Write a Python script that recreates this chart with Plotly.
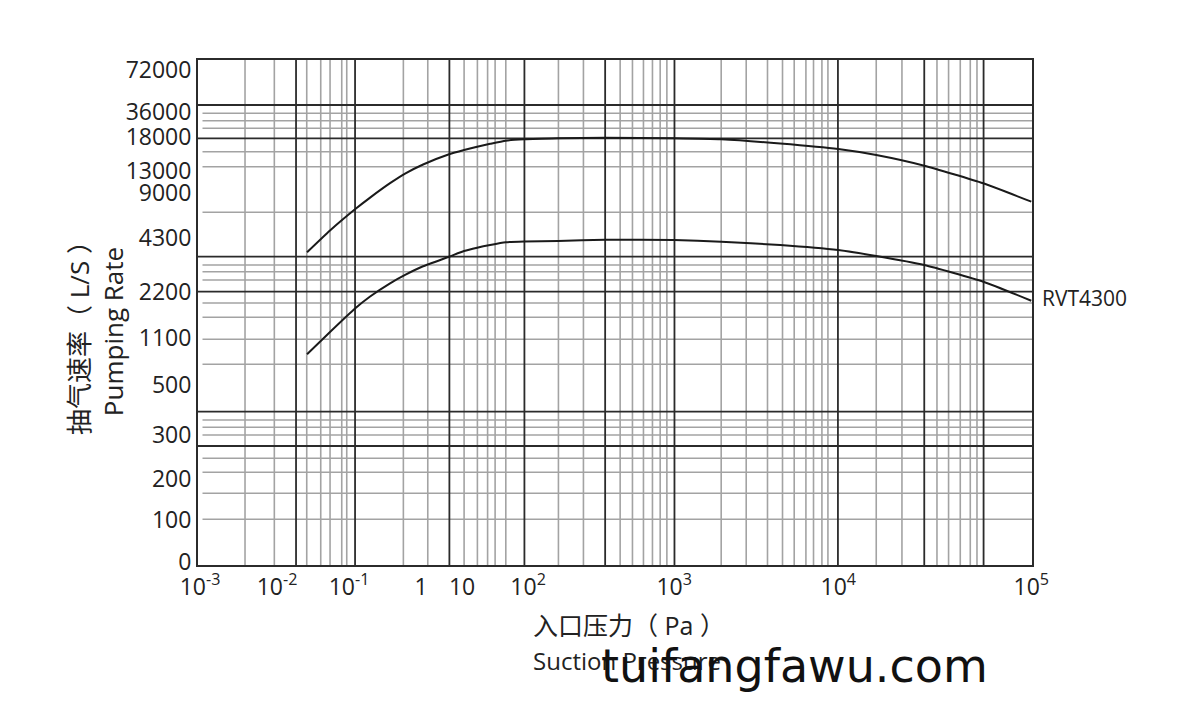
import numpy as np
import plotly.graph_objects as go

# ---------------- data ----------------
pressure_upper = [0.0261, 0.0544, 0.121, 0.196, 0.371, 0.600, 1.12, 4.82, 10.7, 16.9, 26.6,
                  45.9, 86.9, 160, 337, 1000, 1935, 4430, 10000, 15740, 27900, 56400, 100000]
speed_upper = [3744, 5083, 7297, 8520, 10782, 12527, 13956, 15456, 16087, 16572, 16998,
               17454, 17660, 17808, 17897, 17808, 17660, 17044, 16235, 15353, 13779, 10764, 8092]

pressure_lower = pressure_upper
speed_lower = [892, 1243, 1805, 2092, 2538, 2865, 3200, 3573, 3795, 3923, 4028,
               4133, 4164, 4184, 4234, 4223, 4157, 4028, 3833, 3600, 3250, 2601, 1992]

series_label = "RVT4300"

x_tick_exp = [-3, -2, -1, 0, 1, 2, 3, 4, 5]
x_tick_text = ["10<sup>-3</sup>", "10<sup>-2</sup>", "10<sup>-1</sup>", "1", "10",
               "10<sup>2</sup>", "10<sup>3</sup>", "10<sup>4</sup>", "10<sup>5</sup>"]
y_tick_values = [0, 100, 200, 300, 500, 1100, 2200, 4300, 9000, 13000, 18000, 36000, 72000]
y_tick_text = [str(v) for v in y_tick_values]

# ------------- custom (non-uniform) sheet scale -------------
X_DECADE_POS = [200, 277, 349, 421, 462, 528, 674, 838, 1031]
Y_LABEL_POS = [562, 520, 479, 435, 385, 338, 292, 238, 193, 171, 137, 112, 70]
X_RANGE = [198, 1031.7]
Y_RANGE = [565, 60]


def xpos(p):
    return np.interp(np.log10(np.asarray(p, dtype=float)), x_tick_exp, X_DECADE_POS)


def ypos(s):
    return np.interp(np.asarray(s, dtype=float), y_tick_values, Y_LABEL_POS)


# grid of the printed sheet
V_GRID_MINOR = [245, 274.3, 306.7, 320.7, 330, 341.7, 346.7, 403.3, 427.7, 464, 477.3, 487.5,
                495, 505.7, 558.3, 583.3, 620, 632.3, 643.3, 652.3, 660, 666.7, 721, 746,
                767.3, 782.3, 794, 805.7, 813.3, 821.7, 827.7, 876, 901.7, 936.7, 948.3,
                960, 970, 976.7]
V_GRID_MAJOR = [296, 355, 449.3, 524.3, 605, 674.3, 837.7, 924, 983.3]
H_GRID_MINOR = [113.3, 120.7, 128.3, 151.7, 166.7, 212.3, 265, 271.7, 280, 303, 317.3, 339.3,
                364.3, 420, 427.3, 435, 458.3, 472.3, 493.3, 519.3]
H_GRID_MAJOR = [105, 138.3, 256.7, 291.7, 411.7, 446]

MINOR_COLOR = "#a3a3a3"
MAJOR_COLOR = "#2b2b2b"
LINE_COLOR = "#1a1a1a"
FONT = "Open Sans, Noto Sans CJK SC, sans-serif"

# page body margin of the html (8 px) is compensated in the figure margins
PAGE_OFF = 8
W, H = 1200, 706
ML = X_RANGE[0] - PAGE_OFF
MT = Y_RANGE[1] - PAGE_OFF
MR = W - (X_RANGE[1] - PAGE_OFF)
MB = H - (Y_RANGE[0] - PAGE_OFF)
PW = X_RANGE[1] - X_RANGE[0]
PH = Y_RANGE[0] - Y_RANGE[1]


def px(xp):
    return (xp - X_RANGE[0]) / PW


def py(yp):
    return (Y_RANGE[0] - yp) / PH


shapes = []
for v in V_GRID_MINOR:
    shapes.append(dict(type="line", xref="x", yref="y", x0=v, x1=v, y0=Y_RANGE[0], y1=Y_RANGE[1],
                       line=dict(color=MINOR_COLOR, width=1.6), layer="below"))
for h in H_GRID_MINOR:
    shapes.append(dict(type="line", xref="x", yref="y", x0=202.5, x1=X_RANGE[1], y0=h, y1=h,
                       line=dict(color=MINOR_COLOR, width=1.6), layer="below"))
for v in V_GRID_MAJOR:
    shapes.append(dict(type="line", xref="x", yref="y", x0=v, x1=v, y0=Y_RANGE[0], y1=Y_RANGE[1],
                       line=dict(color=MAJOR_COLOR, width=1.8), layer="below"))
for h in H_GRID_MAJOR:
    shapes.append(dict(type="line", xref="x", yref="y", x0=X_RANGE[0], x1=X_RANGE[1], y0=h, y1=h,
                       line=dict(color=MAJOR_COLOR, width=1.8), layer="below"))

fig = go.Figure()
fig.add_trace(go.Scatter(x=xpos(pressure_upper), y=ypos(speed_upper), mode="lines",
                         line=dict(color=LINE_COLOR, width=2, shape="spline", smoothing=0.5),
                         showlegend=False, hoverinfo="skip"))
fig.add_trace(go.Scatter(x=xpos(pressure_lower), y=ypos(speed_lower), mode="lines",
                         line=dict(color=LINE_COLOR, width=2, shape="spline", smoothing=0.5),
                         showlegend=False, hoverinfo="skip", name=series_label))

annotations = [
    dict(text="抽气速率（ L/S ）<br>Pumping Rate", xref="paper", yref="paper",
         x=px(96), y=py(331), textangle=-90, showarrow=False,
         xanchor="center", yanchor="middle", font=dict(family=FONT, size=26, color="#222")),
    dict(text="入口压力（ Pa ）", xref="paper", yref="paper", x=px(531),
         y=py(625), showarrow=False, xanchor="left", yanchor="middle",
         font=dict(family=FONT, size=25, color="#222")),
    dict(text="Suction Pressure", xref="paper", yref="paper", x=px(531),
         y=py(660), showarrow=False, xanchor="left", yanchor="middle",
         font=dict(family=FONT, size=24, color="#222")),
    dict(text=series_label, xref="paper", yref="paper", x=px(1040),
         y=py(298), showarrow=False, xanchor="left", yanchor="middle",
         font=dict(family=FONT, size=21, color="#222")),
    dict(text="tuifangfawu.com", xref="paper", yref="paper", x=px(794),
         y=py(666), showarrow=False, xanchor="center", yanchor="middle",
         font=dict(family="DejaVu Sans", size=46, color="#111")),
]

fig.update_layout(
    width=W, height=H,
    margin=dict(l=ML, r=MR, t=MT, b=MB, autoexpand=False),
    paper_bgcolor="white", plot_bgcolor="white",
    shapes=shapes, annotations=annotations,
    font=dict(family=FONT, color="#222"),
    xaxis=dict(range=X_RANGE, tickmode="array", tickvals=xpos([10.0 ** e for e in x_tick_exp]),
               ticktext=x_tick_text, showgrid=False, zeroline=False, showline=True, mirror=True,
               linecolor=MAJOR_COLOR, linewidth=2, ticks="", tickfont=dict(size=23, family=FONT)),
    yaxis=dict(range=Y_RANGE, tickmode="array", tickvals=ypos(y_tick_values),
               ticktext=y_tick_text, showgrid=False, zeroline=False, showline=True, mirror=True,
               linecolor=MAJOR_COLOR, linewidth=2, ticks="", tickfont=dict(size=23, family=FONT)),
)

fig.write_html("out.html")
